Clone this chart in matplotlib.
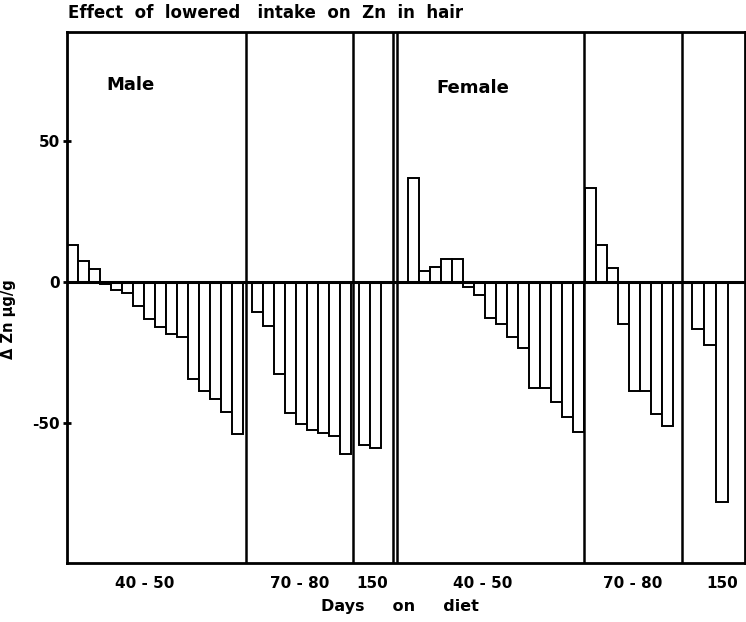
import matplotlib
matplotlib.use('Agg')
import matplotlib.pyplot as plt

# change in hair Zn (ug/g) per subject
male_40_50 = [13, 7.5, 4.5, -0.7, -3, -4, -8.5, -13, -16, -18.5, -19.5, -34.5, -38.5, -41.5, -46, -54]
male_70_80 = [-10.5, -15.5, -32.5, -46.5, -50.5, -52.5, -53.5, -54.5, -61]
male_150 = [-58, -59]
female_40_50 = [37, 4, 5.2, 8.2, 8, -1.7, -4.6, -12.6, -15, -19.4, -23.3, -37.5, -37.5, -42.7, -48, -53.3]
female_70_80 = [33.5, 13, 5, -15, -38.5, -38.5, -46.7, -51]
female_150 = [-16.5, -22.5, -78]

group_labels = ['40 - 50', '70 - 80', '150', '40 - 50', '70 - 80', '150']

# layout: where each group starts, bar widths, separator lines (x units)
groups = [male_40_50, male_70_80, male_150, female_40_50, female_70_80, female_150]
starts = [0.0, 16.8, 26.5, 31.0, 47.1, 56.8]
widths = [1.0, 1.0, 1.0, 1.0, 1.0, 1.1]
separators = [16.3, 26.0, 29.6, 30.0, 47.0, 55.9]
label_px = [145, 300, 372, 483, 633, 722]

W, H = 746, 622
fig = plt.figure(figsize=(W / 100, H / 100), dpi=100)
ax = fig.add_axes([67 / W, 1 - 563 / H, (745 - 67) / W, (563 - 32) / H])

for vals, x0, w in zip(groups, starts, widths):
    xs = [x0 + i * w for i in range(len(vals))]
    ax.bar(xs, vals, width=w, align='edge', color='white',
           edgecolor='black', linewidth=1.4, zorder=2)

for x in separators:
    ax.axvline(x, color='black', linewidth=1.8, zorder=3)
ax.axhline(0, color='black', linewidth=2.2, zorder=3)

ax.set_xlim(0, 61.6)
ax.set_ylim(-99.7, 88.7)
ax.set_xticks([])
ax.set_yticks([50, 0, -50])
ax.set_yticklabels(['50', '0', '-50'], fontsize=11, fontweight='bold')
ax.tick_params(axis='y', direction='inout', length=6, width=2, pad=2)
for s in ax.spines.values():
    s.set_linewidth(2)

ax.set_ylabel('Δ Zn µg/g', fontsize=10.5, fontweight='bold')
ax.yaxis.set_label_coords(-0.075, 0.46)

ax.text(0.058, 0.90, 'Male', transform=ax.transAxes, fontsize=13,
        fontweight='bold', va='center')
ax.text(0.545, 0.895, 'Female', transform=ax.transAxes, fontsize=13,
        fontweight='bold', va='center')

fig.text(68 / W, 1 - 13 / H, 'Effect  of  lowered   intake  on  Zn  in  hair',
         fontsize=12, fontweight='bold', va='center')
for lab, px in zip(group_labels, label_px):
    fig.text(px / W, 1 - 584 / H, lab, fontsize=11, fontweight='bold',
             ha='center', va='center')
fig.text(400 / W, 1 - 607 / H, 'Days     on     diet', fontsize=11.5,
         fontweight='bold', ha='center', va='center')

fig.savefig('out.png', dpi=100)
